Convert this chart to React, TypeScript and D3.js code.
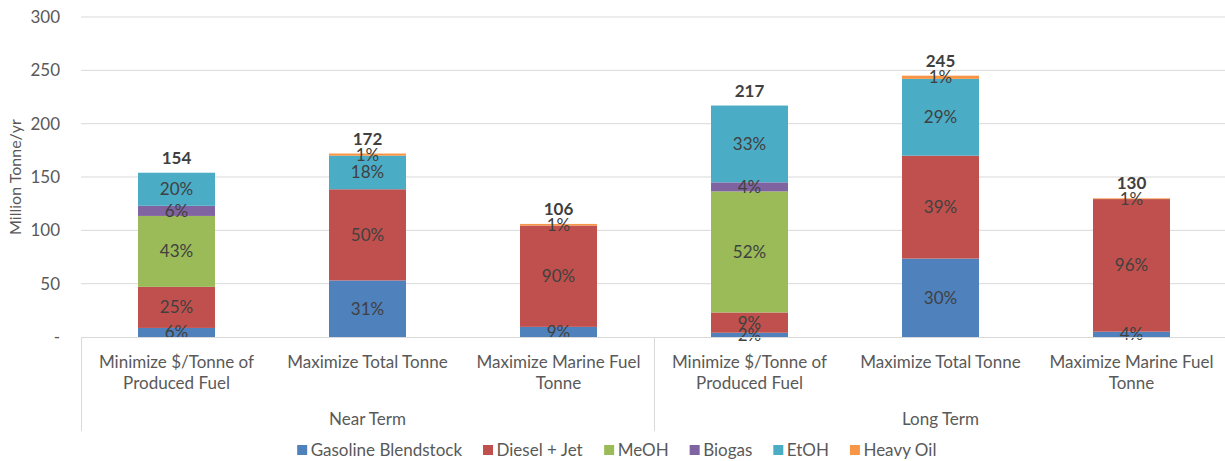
import React, { useEffect } from 'react';
import * as d3 from 'd3';

// categories (two-line labels) and their groups
const categoryLines = [
  ['Minimize $/Tonne of', 'Produced Fuel'],
  ['Maximize Total Tonne'],
  ['Maximize Marine Fuel', 'Tonne'],
  ['Minimize $/Tonne of', 'Produced Fuel'],
  ['Maximize Total Tonne'],
  ['Maximize Marine Fuel', 'Tonne'],
];
const groups = ['Near Term', 'Long Term'];

const seriesNames = ['Gasoline Blendstock', 'Diesel + Jet', 'MeOH', 'Biogas', 'EtOH', 'Heavy Oil'];
const seriesColors = ['#4F81BD', '#C0504D', '#9BBB59', '#8064A2', '#4BACC6', '#F79646'];

// Million Tonne/yr, per category
const gasoline = [8.5, 53, 9.5, 4, 73.5, 5];
const dieselJet = [38.5, 85.5, 95, 19, 96.5, 124.3];
const meoh = [66.5, 0, 0, 113.5, 0, 0];
const biogas = [9.5, 0, 0, 8.5, 0, 0];
const etoh = [31, 31.5, 0, 72, 72, 0];
const heavyOil = [0, 2, 1.5, 0, 3, 0.7];

const yTicks = [0, 50, 100, 150, 200, 250, 300];

const W = 1225;
const H = 461;
const FONT = 'Lato, "Open Sans", sans-serif';

export default function App() {
  useEffect(() => {
    document.body.style.margin = '0';
  }, []);

  const series = [gasoline, dieselJet, meoh, biogas, etoh, heavyOil];
  const rows = categoryLines.map((_, i) => {
    const r: any = { i };
    series.forEach((s, k) => (r[k] = s[i]));
    return r;
  });
  const stack = d3.stack<any>().keys(series.map((_, k) => String(k)))(rows);
  const totals = rows.map((_, i) => d3.sum(series, (s) => s[i]));

  const x = d3.scaleBand<number>().domain(d3.range(6)).range([81, 1227]).padding(0);
  const y = d3.scaleLinear().domain([0, 300]).range([337, 17]);
  const barW = x.bandwidth() * 0.403;

  // legend layout via text measurement
  const ctx = document.createElement('canvas').getContext('2d')!;
  ctx.font = '17px Lato';
  const widths = seriesNames.map((n) => ctx.measureText(n).width);
  const itemW = widths.map((w) => 13.5 + w);
  const gap = 21;
  const totalW = d3.sum(itemW) + gap * (itemW.length - 1);
  let lx = 617 - totalW / 2;
  const legendX = itemW.map((w) => {
    const s = lx;
    lx += w + gap;
    return s;
  });

  return (
    <svg width={W} height={H} style={{ display: 'block', fontFamily: FONT }}>
      <rect width={W} height={H} fill="#fff" />
      {/* gridlines */}
      {yTicks.slice(1).map((t) => (
        <line key={t} x1={81} x2={W} y1={y(t)} y2={y(t)} stroke="#d9d9d9" strokeWidth={1} />
      ))}
      {/* y tick labels */}
      {yTicks.map((t) => (
        <text key={t} x={60} y={y(t)} dy="0.35em" textAnchor="end" fontSize={17} fill="#595959">
          {t === 0 ? '-' : t}
        </text>
      ))}
      <text
        transform={`translate(15,${(y(0) + y(300)) / 2}) rotate(-90)`}
        textAnchor="middle"
        dy="0.35em"
        fontSize={16}
        fill="#595959"
      >
        Million Tonne/yr
      </text>

      {/* bars */}
      {stack.map((layer, k) =>
        layer.map((d, i) =>
          d[1] - d[0] > 0 ? (
            <rect
              key={`${k}-${i}`}
              x={x(i)! + (x.bandwidth() - barW) / 2}
              y={y(d[1])}
              width={barW}
              height={y(d[0]) - y(d[1])}
              fill={seriesColors[k]}
            />
          ) : null
        )
      )}
      {/* percent labels */}
      {stack.map((layer, k) =>
        layer.map((d, i) =>
          d[1] - d[0] > 0 ? (
            <text
              key={`p${k}-${i}`}
              x={x(i)! + x.bandwidth() / 2}
              y={y((d[0] + d[1]) / 2)}
              dy="0.35em"
              textAnchor="middle"
              fontSize={17}
              fill="#404040"
            >
              {Math.round(((d[1] - d[0]) / totals[i]) * 100)}%
            </text>
          ) : null
        )
      )}
      {/* totals */}
      {totals.map((t, i) => (
        <text
          key={`t${i}`}
          x={x(i)! + x.bandwidth() / 2}
          y={y(t) - 9}
          textAnchor="middle"
          fontSize={17}
          fontWeight="bold"
          fill="#404040"
        >
          {Math.round(t)}
        </text>
      ))}

      {/* category axis */}
      <line x1={81} x2={W} y1={y(0) + 0.5} y2={y(0) + 0.5} stroke="#d9d9d9" />
      {[0, 3, 6].map((i) => (
        <line
          key={`v${i}`}
          x1={81 + i * x.step() + 0.5}
          x2={81 + i * x.step() + 0.5}
          y1={y(0)}
          y2={431}
          stroke="#d9d9d9"
        />
      ))}
      {categoryLines.map((lines, i) => (
        <text key={`c${i}`} x={x(i)! + x.bandwidth() / 2} textAnchor="middle" fontSize={17} fill="#595959">
          {lines.map((l, j) => (
            <tspan key={j} x={x(i)! + x.bandwidth() / 2} y={368 + j * 21}>
              {l}
            </tspan>
          ))}
        </text>
      ))}
      {groups.map((g, gi) => (
        <text
          key={g}
          x={81 + (gi * 3 + 1.5) * x.step()}
          y={425}
          textAnchor="middle"
          fontSize={17}
          fill="#595959"
        >
          {g}
        </text>
      ))}

      {/* legend */}
      {seriesNames.map((n, k) => (
        <g key={n} transform={`translate(${legendX[k]},450)`}>
          <rect x={0} y={-5} width={10} height={10} fill={seriesColors[k]} />
          <text x={13.5} dy="0.35em" fontSize={17} fill="#595959">
            {n}
          </text>
        </g>
      ))}
    </svg>
  );
}
